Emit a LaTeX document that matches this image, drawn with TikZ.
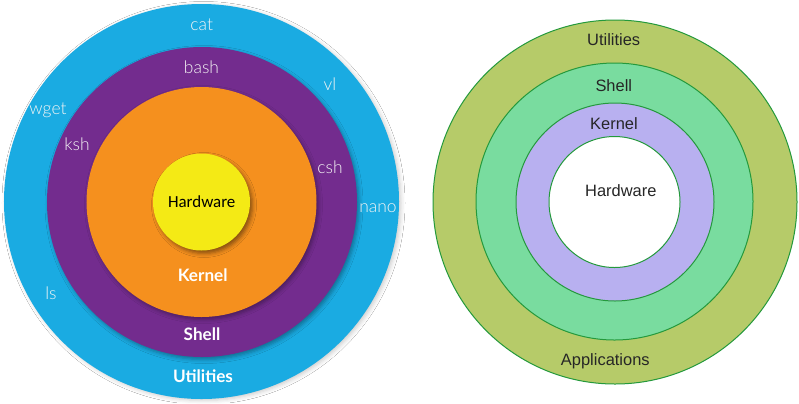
\documentclass[tikz,border=0pt]{standalone}
\usepackage{fontspec}
\usetikzlibrary{shadows.blur}
\setmainfont{Liberation Sans}
\IfFontExistsTF{Lato Light}{\newfontfamily\latl{Lato Light}}{\newfontfamily\latl{Lato}}
\IfFontExistsTF{Lato Bold}{\newfontfamily\latbold{Lato Bold}}{\newfontfamily\latbold{Lato}[FakeBold=2]}
\newfontfamily\carl{Carlito}
\definecolor{ublue}{HTML}{1AABE2}
\definecolor{upurple}{HTML}{732C8E}
\definecolor{uorange}{HTML}{F5901E}
\definecolor{uyellow}{HTML}{F4EA15}
\definecolor{rolive}{HTML}{B6CB69}
\definecolor{rgreen}{HTML}{79DC9F}
\definecolor{rlav}{HTML}{B8B0F0}
\definecolor{rstroke}{HTML}{24993C}
\tikzset{
  lshadow/.style={blur shadow={shadow xshift=2bp, shadow yshift=-2.5bp, shadow blur radius=4bp, shadow opacity=35}},
  cmdlabel/.style={anchor=base, text=white!92!gray, inner sep=0pt, font=\latl\fontsize{17.5}{19}\selectfont},
  layerlabel/.style={anchor=base, text=white, inner sep=0pt, font=\latbold\fontsize{17.2}{19}\selectfont},
  rlabel/.style={anchor=base, text=black!85, inner sep=0pt, font=\fontsize{16.5}{18}\selectfont},
  rring/.style={draw=rstroke, line width=1bp}
}
\begin{document}
\begin{tikzpicture}[x=1bp,y=-1bp]
\useasboundingbox (0,0) rectangle (799,403);
\fill[white] (0,0) rectangle (799,403);
% left diagram
\fill[ublue, blur shadow={shadow xshift=2bp, shadow yshift=-1.5bp, shadow blur radius=4bp, shadow opacity=20}] (201.5,201.5) circle[radius=197.5bp];
\fill[upurple, lshadow] (202,202) circle[radius=155bp];
\fill[uorange, lshadow] (201.5,202) circle[radius=115bp];
\fill[uyellow, blur shadow={shadow xshift=2.5bp, shadow yshift=-3bp, shadow blur radius=4bp, shadow opacity=45}] (201.5,202) circle[radius=48.5bp];
\node[cmdlabel] (cat) at (201.7,30) {cat};
\node[cmdlabel] (bash) at (201.5,73) {bash};
\node[cmdlabel] (vl) at (330,90) {vl};
\node[cmdlabel] (wget) at (48,114.5) {wget};
\node[cmdlabel] (ksh) at (77,150) {ksh};
\node[cmdlabel] (csh) at (330,173.5) {csh};
\node[cmdlabel] (nano) at (378,212) {nano};
\node[cmdlabel] (ls) at (51,299.5) {ls};
\node[anchor=base, inner sep=0pt, font=\carl\fontsize{17}{19}\selectfont] (hwl) at (201.7,207.5) {Hardware};
\node[layerlabel] (kernl) at (202.7,281.7) {Kernel};
\node[layerlabel] (shelll) at (202,340) {Shell};
\node[layerlabel] (utill) at (203,382.5) {Utilities};
% right diagram
\filldraw[rring, fill=rolive] (615,202) circle[radius=182bp];
\filldraw[rring, fill=rgreen] (614.5,201.5) circle[radius=138.5bp];
\filldraw[rring, fill=rlav] (615,202) circle[radius=99bp];
\filldraw[rring, fill=white] (614.5,202) circle[radius=65.5bp];
\node[rlabel] (utilr) at (613.7,45.7) {Utilities};
\node[rlabel] (shellr) at (613.8,91) {Shell};
\node[rlabel] (kernr) at (614,129) {Kernel};
\node[rlabel] (hwr) at (620.8,196.7) {Hardware};
\node[rlabel] (appr) at (605.3,365) {Applications};
\end{tikzpicture}
\end{document}
